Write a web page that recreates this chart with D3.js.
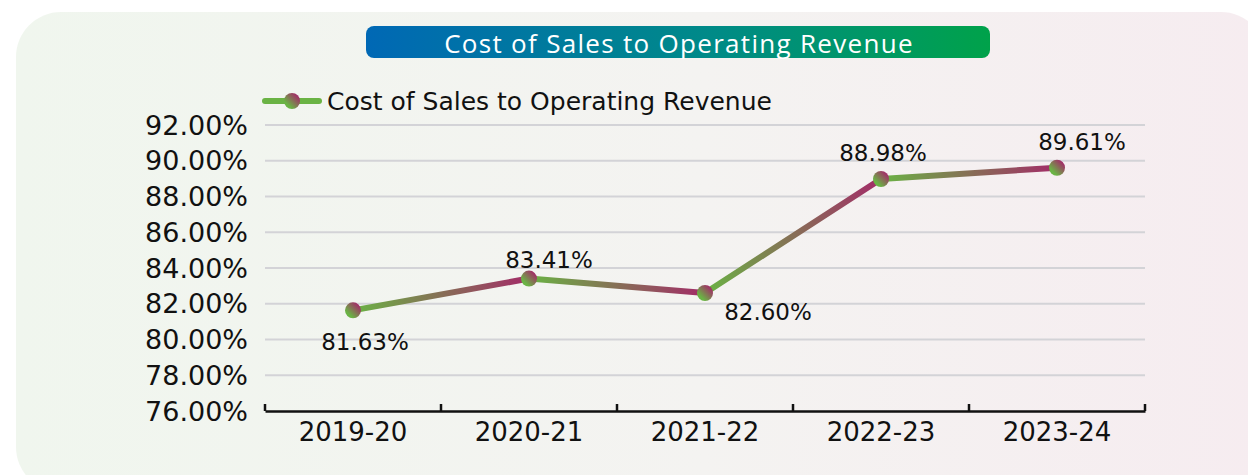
<!DOCTYPE html>
<html>
<head>
<meta charset="utf-8">
<script src="https://cdn.jsdelivr.net/npm/d3@7"></script>
<style>
  html, body { margin: 0; padding: 0; background: #fff; }
  svg { display: block; font-family: "DejaVu Sans", sans-serif; }
</style>
</head>
<body>
<div id="chart"></div>
<script>
const years = ['2019-20', '2020-21', '2021-22', '2022-23', '2023-24'];
const ratios = [81.63, 83.41, 82.60, 88.98, 89.61];
const yTicks = [76, 78, 80, 82, 84, 86, 88, 90, 92];
const seriesName = 'Cost of Sales to Operating Revenue';
// where each value label sits relative to its point
const labelDx = [12, 20, 63, 2, 25];
const labelDy = [32, -19, 19, -26, -26];

const width = 1248, height = 475;
const margin = { top: 125, right: 103, bottom: 64, left: 265 };
const green = '#6ab344', plum = '#a32b68';

const svg = d3.select('#chart').append('svg')
    .attr('width', width)
    .attr('height', height);

const defs = svg.append('defs');

const bg = defs.append('linearGradient').attr('id', 'bg');
bg.append('stop').attr('offset', '0%').attr('stop-color', '#f0f6ee');
bg.append('stop').attr('offset', '55%').attr('stop-color', '#f4f3f1');
bg.append('stop').attr('offset', '100%').attr('stop-color', '#f6ecf0');

const banner = defs.append('linearGradient').attr('id', 'banner');
banner.append('stop').attr('offset', '0%').attr('stop-color', '#0068b5');
banner.append('stop').attr('offset', '55%').attr('stop-color', '#008a88');
banner.append('stop').attr('offset', '100%').attr('stop-color', '#00a24a');

const dot = defs.append('linearGradient').attr('id', 'dot')
    .attr('x1', 0).attr('y1', 1).attr('x2', 1).attr('y2', 0);
dot.append('stop').attr('offset', '25%').attr('stop-color', green);
dot.append('stop').attr('offset', '85%').attr('stop-color', plum);

// card background
svg.append('rect')
    .attr('x', 16).attr('y', 12)
    .attr('width', 1250).attr('height', 480)
    .attr('rx', 45)
    .attr('fill', 'url(#bg)');

// title banner
svg.append('rect')
    .attr('x', 366).attr('y', 26)
    .attr('width', 624).attr('height', 32)
    .attr('rx', 8)
    .attr('fill', 'url(#banner)');

svg.append('text')
    .attr('x', 679).attr('y', 43)
    .attr('text-anchor', 'middle')
    .attr('dominant-baseline', 'central')
    .attr('fill', '#fff')
    .attr('font-family', '"Open Sans", sans-serif')
    .attr('font-size', 26)
    .attr('letter-spacing', 1.3)
    .text(seriesName);

// legend
const legend = svg.append('g').attr('transform', 'translate(262,101)');
const lg = defs.append('linearGradient').attr('id', 'legline')
    .attr('gradientUnits', 'userSpaceOnUse')
    .attr('x1', 262).attr('x2', 322).attr('y1', 0).attr('y2', 0);
lg.append('stop').attr('offset', '0%').attr('stop-color', green);
lg.append('stop').attr('offset', '100%').attr('stop-color', plum);
legend.append('line')
    .attr('x1', 3).attr('x2', 57)
    .attr('stroke', 'url(#legline)')
    .attr('stroke-width', 6)
    .attr('stroke-linecap', 'round');
legend.append('circle')
    .attr('cx', 30).attr('r', 8)
    .attr('fill', 'url(#dot)');
legend.append('text')
    .attr('x', 65)
    .attr('dominant-baseline', 'central')
    .attr('font-size', 25)
    .attr('fill', '#111')
    .text(seriesName);

// scales
const x = d3.scaleBand()
    .domain(years)
    .range([margin.left, width - margin.right]);

const y = d3.scaleLinear()
    .domain([76, 92])
    .range([height - margin.bottom, margin.top]);

// gridlines
svg.append('g')
    .selectAll('line')
    .data(yTicks.slice(1))
    .join('line')
    .attr('x1', margin.left).attr('x2', width - margin.right)
    .attr('y1', d => y(d)).attr('y2', d => y(d))
    .attr('stroke', '#d3d3d7')
    .attr('stroke-width', 2);

// y labels
svg.append('g')
    .selectAll('text')
    .data(yTicks)
    .join('text')
    .attr('x', 248)
    .attr('y', d => y(d))
    .attr('text-anchor', 'end')
    .attr('dominant-baseline', 'central')
    .attr('font-size', 27)
    .attr('fill', '#111')
    .text(d => d.toFixed(2) + '%');

// x axis
const xAxis = d3.axisBottom(x).tickSize(0).tickPadding(12);
const gx = svg.append('g')
    .attr('transform', `translate(0,${height - margin.bottom})`)
    .call(xAxis);
gx.select('.domain').attr('stroke', '#111').attr('stroke-width', 2.5);
gx.selectAll('text')
    .attr('font-family', '"DejaVu Sans", sans-serif')
    .attr('font-size', 26)
    .attr('fill', '#111');

const edges = years.map(d => x(d)).concat([x.range()[1]]);
gx.selectAll('.edge')
    .data(edges)
    .join('line')
    .attr('class', 'edge')
    .attr('x1', d => d).attr('x2', d => d)
    .attr('y1', 0).attr('y2', -7)
    .attr('stroke', '#111')
    .attr('stroke-width', 2.5);

// line segments, each with its own green to plum gradient
const pts = years.map((yr, i) => ({ yr, v: ratios[i], cx: x(yr) + x.bandwidth() / 2, cy: y(ratios[i]) }));
const segs = d3.pairs(pts);

segs.forEach(([a, b], i) => {
    const g = defs.append('linearGradient')
        .attr('id', 'seg' + i)
        .attr('gradientUnits', 'userSpaceOnUse')
        .attr('x1', a.cx).attr('y1', a.cy)
        .attr('x2', b.cx).attr('y2', b.cy);
    g.append('stop').attr('offset', '0%').attr('stop-color', green);
    g.append('stop').attr('offset', '100%').attr('stop-color', plum);
});

svg.append('g')
    .selectAll('line')
    .data(segs)
    .join('line')
    .attr('x1', d => d[0].cx).attr('y1', d => d[0].cy)
    .attr('x2', d => d[1].cx).attr('y2', d => d[1].cy)
    .attr('stroke', (d, i) => `url(#seg${i})`)
    .attr('stroke-width', 6)
    .attr('stroke-linecap', 'round');

svg.append('g')
    .selectAll('circle')
    .data(pts)
    .join('circle')
    .attr('cx', d => d.cx).attr('cy', d => d.cy)
    .attr('r', 8)
    .attr('fill', 'url(#dot)');

// data labels
svg.append('g')
    .selectAll('text')
    .data(pts)
    .join('text')
    .attr('x', (d, i) => d.cx + labelDx[i])
    .attr('y', (d, i) => d.cy + labelDy[i])
    .attr('text-anchor', 'middle')
    .attr('dominant-baseline', 'central')
    .attr('font-size', 23)
    .attr('fill', '#111')
    .text(d => d.v.toFixed(2) + '%');
</script>
</body>
</html>
